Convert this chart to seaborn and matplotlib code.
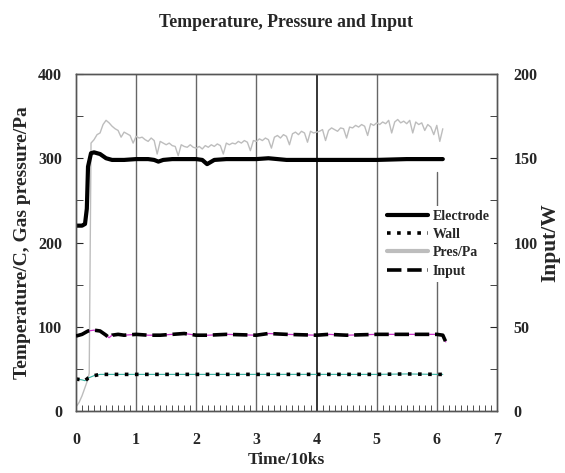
import matplotlib
matplotlib.use("Agg")
import matplotlib.pyplot as plt
import seaborn as sns
import pandas as pd
from matplotlib.lines import Line2D
from matplotlib.ticker import MultipleLocator

# ---- data ----
# electrode temperature (C), left axis
elec_t = [0, 0.1, 0.15, 0.18, 0.2, 0.25, 0.3, 0.4, 0.5, 0.6, 0.8, 1.0, 1.2, 1.3, 1.37, 1.45,
          1.6, 1.8, 2.0, 2.1, 2.18, 2.3, 2.5, 3.0, 3.2, 3.5, 4.0, 4.5, 5.0, 5.5, 6.0, 6.1]
elec_v = [220, 220, 222, 240, 290, 306, 307, 305, 300, 298, 298, 299, 299, 298, 296, 298,
          299, 299, 299, 298, 293, 298, 299, 299, 300, 298, 298, 298, 298, 299, 299, 299]

# wall temperature (C), left axis
wall_t = [0, 0.1, 0.15, 0.2, 0.3, 0.4, 0.5, 1.0, 2.0, 3.0, 4.0, 5.0, 5.5, 6.0, 6.1]
wall_v = [38, 37, 36, 39, 42, 43.5, 43.5, 43.5, 43.5, 43.5, 43.5, 43.5, 44, 43.5, 43.5]

# gas pressure (Pa), left axis: start-up, then every 0.05 from 0.25 to 6.1
pres_start_t = [0, 0.05, 0.1, 0.15, 0.2, 0.22]
pres_start_v = [5, 10, 18, 28, 38, 45]
pres_v = [318, 322, 328, 330, 340, 345, 342, 338, 335, 333, 325,
          331, 329, 327, 318, 326, 324, 325, 322, 320, 324, 321, 305, 320, 318,
          316, 318, 315, 314, 303, 316, 314, 313, 316, 313, 312, 314, 311, 315, 313,
          316, 314, 317, 315, 305, 318, 316, 318, 317, 320, 318, 321, 319, 309, 321,
          320, 323, 321, 324, 322, 312, 325, 327, 324, 328, 326, 316, 329, 331, 328,
          332, 330, 319, 332, 330, 331, 332, 334, 321, 333, 336, 334, 332, 336, 335,
          324, 337, 336, 339, 337, 340, 338, 327, 341, 339, 342, 340, 343, 341, 345,
          330, 343, 346, 342, 344, 341, 345, 330, 343, 340, 342, 333, 340, 337, 328,
          339, 320, 335]
pres_t = pres_start_t + [round(0.25 + i * 0.05, 2) for i in range(len(pres_v))]
pres_v = pres_start_v + pres_v

# input power (W), right axis
inp_t = [0, 0.1, 0.2, 0.3, 0.4, 0.5, 0.55, 0.6, 0.7, 0.8, 1.0, 1.2, 1.4, 1.6, 1.8, 2.0,
         2.2, 2.5, 3.0, 3.2, 3.5, 4.0, 4.2, 4.5, 5.0, 5.5, 6.0, 6.1, 6.15]
inp_v = [44.5, 45.5, 47.5, 48, 47.5, 45, 43.5, 45, 45.5, 45, 45.5, 45, 45, 45.5, 46, 45,
         45, 45.5, 45, 46, 45.5, 45, 45.5, 45, 45.5, 45.5, 45.5, 45, 41]

xticks = [0, 1, 2, 3, 4, 5, 6, 7]
grid_x = [1, 2, 3, 5]

elec = pd.DataFrame({"t": elec_t, "v": elec_v})
wall = pd.DataFrame({"t": wall_t, "v": wall_v})
pres = pd.DataFrame({"t": pres_t, "v": pres_v})
inp = pd.DataFrame({"t": inp_t, "v": inp_v})

sns.set_style("ticks")
plt.rcParams["font.family"] = ["Liberation Serif", "DejaVu Serif"]
plt.rcParams["font.weight"] = "bold"

fig = plt.figure(figsize=(5.65, 4.73), dpi=100)
ax = fig.add_axes([0.1345, 0.131, 0.745, 0.7126])
ax2 = ax.twinx()

# vertical grid lines
for gx in grid_x:
    ax.axvline(gx, color="#666666", lw=1, zorder=0)
ax.axvline(4, color="black", lw=1.1, zorder=0)
ax.axvline(6, ymax=0.71, color="#666666", lw=1, zorder=0)

sns.lineplot(data=pres, x="t", y="v", ax=ax, color="#bdbdbd", lw=1, sort=False, zorder=2)
sns.lineplot(data=elec, x="t", y="v", ax=ax, color="#dd2222", lw=1, zorder=3)
sns.lineplot(data=elec, x="t", y="v", ax=ax, color="black", lw=3, zorder=4)
sns.lineplot(data=wall, x="t", y="v", ax=ax, color="#33b0a0", lw=0.8, zorder=3)
sns.lineplot(data=wall, x="t", y="v", ax=ax, color="black", lw=2.6,
             linestyle=(0, (1, 1.8)), zorder=4)
sns.lineplot(data=inp, x="t", y="v", ax=ax2, color="#cc33cc", lw=0.9, zorder=3)
sns.lineplot(data=inp, x="t", y="v", ax=ax2, color="black", lw=2.6,
             linestyle=(0, (4, 1.6)), zorder=4)

ax.set_xlim(0, 7)
ax.set_ylim(0, 400)
ax2.set_ylim(0, 200)
ax.set_xticks(xticks)
ax.xaxis.set_minor_locator(MultipleLocator(0.1))
ax.set_yticks([0, 100, 200, 300, 400])
ax.yaxis.set_minor_locator(MultipleLocator(50))
ax2.set_yticks([0, 50, 100, 150, 200])
ax2.yaxis.set_minor_locator(MultipleLocator(25))

for a in (ax, ax2):
    for s in a.spines.values():
        s.set_color("#555555")
        s.set_linewidth(1)
ax.tick_params(axis="x", which="major", direction="in", length=0, pad=15, labelsize=11.5)
ax.tick_params(axis="x", which="minor", direction="in", length=4, color="#333333")
ax.tick_params(axis="y", which="both", direction="in", length=5, pad=10, labelsize=11.5)
ax2.tick_params(axis="y", which="both", direction="in", length=5, pad=12, labelsize=11.5)

ax.set_xlabel("Time/10ks", fontsize=12.5, fontweight="bold", labelpad=3)
ax.set_ylabel("Temperature/C, Gas pressure/Pa", fontsize=14, fontweight="bold", labelpad=5)
ax2.set_ylabel("Input/W", fontsize=15.5, fontweight="bold", labelpad=2)
ax.set_title("Temperature, Pressure and Input", fontsize=12.8, fontweight="bold", pad=34)

handles = [
    Line2D([], [], color="black", lw=3),
    Line2D([], [], color="black", lw=2.6, linestyle=(0, (1, 1.8))),
    Line2D([], [], color="#bdbdbd", lw=3),
    Line2D([], [], color="black", lw=2.6, linestyle=(0, (4, 1.6))),
]
leg = ax2.legend(handles, ["Electrode", "Wall", "Pres/Pa", "Input"],
                 loc="upper left", bbox_to_anchor=(0.713, 0.63), frameon=True,
                 facecolor="white", edgecolor="none", framealpha=1,
                 prop={"family": "Liberation Serif", "weight": "bold", "size": 10},
                 handlelength=2.9, handletextpad=0.35, labelspacing=0.38,
                 borderpad=0.3)
leg.set_zorder(10)

fig.savefig("out.png", dpi=100)
